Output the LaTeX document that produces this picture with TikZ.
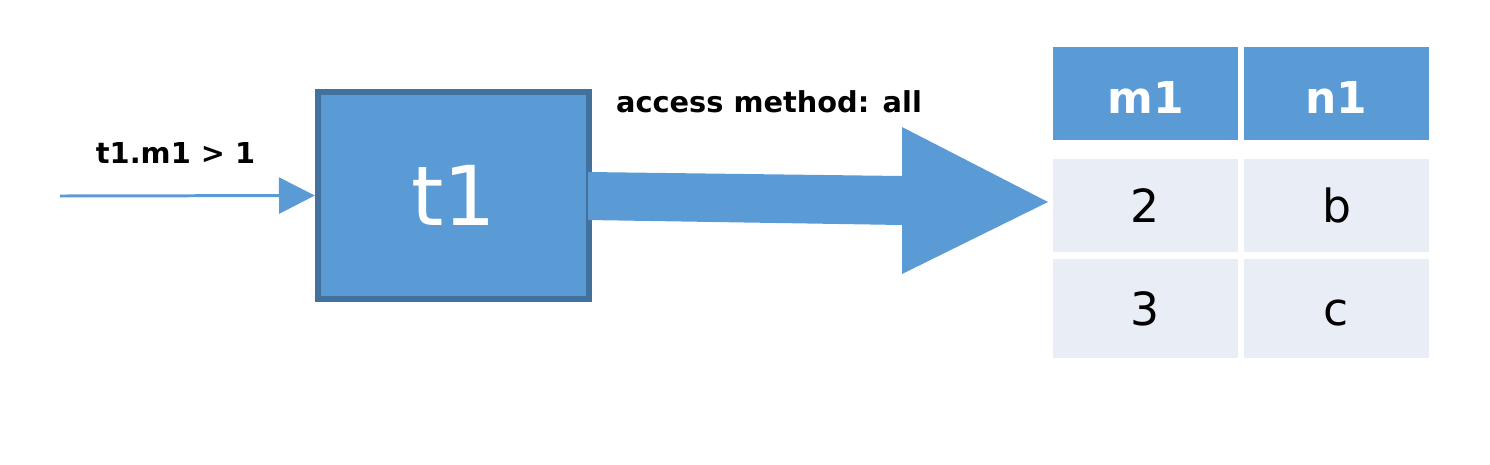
\documentclass[tikz,border=0pt]{standalone}
\usepackage{fontspec}
\setmainfont{DejaVu Sans}
\usepackage{xcolor}
\usepackage{tikz}
\usetikzlibrary{
    arrows.meta,
    calc,
    positioning
}
\definecolor{boxblue}{HTML}{5B9BD5}
\definecolor{boxedge}{HTML}{41719C}
\definecolor{cellgray}{HTML}{E9EEF6}

\begin{document}
\begin{tikzpicture}[x=0.02cm,y=-0.02cm,line join=miter,
   tablebox/.style={minimum width=185*0.02cm,inner sep=0pt,outer sep=0pt,text depth=0pt},
   headcell/.style={tablebox,fill=boxblue,text=white,text height=22.7pt,
     font=\fontsize{25}{25}\selectfont\bfseries},
   bodycell/.style={tablebox,fill=cellgray,text=black,text height=19pt,
     font=\fontsize{26}{26}\selectfont},
   arrowlabel/.style={anchor=base,font=\fontsize{16.4}{17}\selectfont\bfseries}]
\useasboundingbox (0,0) rectangle (1490,464);
\def\cola{1145.5}
\def\colb{1336.5}
% scan box
\node[draw=boxedge,line width=3.6pt,fill=boxblue,text=white,
  minimum width=271*0.02cm,minimum height=207*0.02cm,
  font=\fontsize{47}{47}\selectfont] (t1) at (453.5,195.5) {t1};
% input condition
\coordinate (in) at (60,196);
\draw[boxblue,line width=1.7pt,-{Triangle[length=20.4pt,width=20.4pt]}] (in) -- (t1.west);
\node[arrowlabel] (cond) at (175.5,163) {t1.m1 > 1};
% output arrow
\fill[boxblue] (588,172) -- (902,176) -- (902,127) -- (1048,202)
  -- (902,274) -- (902,225) -- (588,220) -- cycle;
\node[arrowlabel] (method) at (769,112) {access method: all};
% result table
\node[headcell,minimum height=93*0.02cm] (h1) at (\cola,93.5) {m1};
\node[headcell,minimum height=93*0.02cm] (h2) at (\colb,93.5) {n1};
\foreach\v/\w/\y/\h/\r in {2/b/205.5/93/a,3/c/308.5/99/b}
{%
  \node[bodycell,minimum height=\h*0.02cm] (\r1) at (\cola,\y) {\v};
  \node[bodycell,minimum height=\h*0.02cm] (\r2) at (\colb,\y) {\w};
}
\end{tikzpicture}
\end{document}
